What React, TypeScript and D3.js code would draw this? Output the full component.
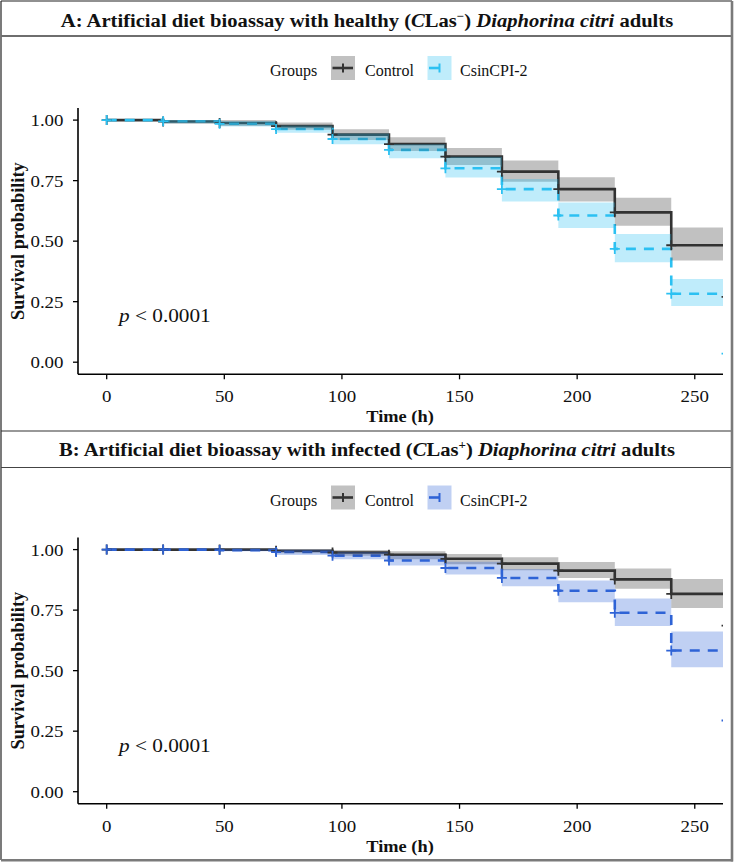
import React from 'react';
import * as d3 from 'd3';

// Kaplan–Meier style survival curves for two feeding bioassays (CLas− / CLas+ psyllids).
// Each curve is a step function sampled at the 24 h check points, with a step ribbon
// for the confidence interval and "+" censor marks at every check point.

const TIMES = [0, 24, 48, 72, 96, 120, 144, 168, 192, 216, 240, 263.5];

// panel A – healthy adults
const A_CONTROL_SURV = [1, 0.994, 0.988, 0.975, 0.94, 0.901, 0.849, 0.787, 0.715, 0.619, 0.483, 0.27];
const A_CONTROL_LOWER = [1, 0.985, 0.976, 0.96, 0.918, 0.872, 0.815, 0.745, 0.664, 0.564, 0.42, 0.2];
const A_CONTROL_UPPER = [1, 1, 1, 0.99, 0.962, 0.929, 0.885, 0.833, 0.764, 0.679, 0.556, 0.34];
const A_CPI_SURV = [1, 0.995, 0.985, 0.963, 0.922, 0.877, 0.801, 0.715, 0.606, 0.468, 0.283, 0.035];
const A_CPI_LOWER = [1, 0.987, 0.974, 0.948, 0.9, 0.842, 0.763, 0.664, 0.554, 0.413, 0.232, 0.01];
const A_CPI_UPPER = [1, 1, 0.996, 0.978, 0.945, 0.9, 0.849, 0.757, 0.66, 0.53, 0.344, 0.1];

// panel B – infected adults
const B_CONTROL_SURV = [1, 1, 1, 0.995, 0.988, 0.979, 0.962, 0.942, 0.913, 0.877, 0.817, 0.686];
const B_CONTROL_LOWER = [1, 1, 0.995, 0.985, 0.975, 0.96, 0.94, 0.915, 0.883, 0.838, 0.759, 0.6];
const B_CONTROL_UPPER = [1, 1, 1, 1, 0.998, 0.993, 0.982, 0.968, 0.949, 0.922, 0.879, 0.78];
const B_CPI_SURV = [1, 1, 0.998, 0.99, 0.975, 0.955, 0.924, 0.883, 0.83, 0.739, 0.583, 0.294];
const B_CPI_LOWER = [1, 1, 0.993, 0.978, 0.96, 0.934, 0.897, 0.849, 0.783, 0.684, 0.514, 0.2];
const B_CPI_UPPER = [1, 1, 1, 0.999, 0.99, 0.976, 0.95, 0.92, 0.872, 0.798, 0.662, 0.4];

const GROUPS = ['Control', 'CsinCPI-2'];
const X_TICKS = [0, 50, 100, 150, 200, 250];
const Y_TICKS = [0, 0.25, 0.5, 0.75, 1];
const P_LABEL = '< 0.0001';

const W = 735;
const H = 864;
const FONT = '"Liberation Serif", "Times New Roman", serif';
const PANEL_H = 429.5;
const PLOT = { left: 78, right: 723, top: 108, bottom: 374.3 };

const CONTROL_COLOR = '#333333';
const CPI_A_COLOR = '#2cc1f2';
const CPI_B_COLOR = '#2f63d6';

const x = d3.scaleLinear().domain([-12.2, 262]).range([PLOT.left, PLOT.right]);
const y = d3.scaleLinear().domain([-0.05, 1.05]).range([PLOT.bottom, PLOT.top]);
const fmt = d3.format('.2f');

type Series = {
  name: string;
  surv: number[];
  lower: number[];
  upper: number[];
  color: string;
  dashed: boolean;
};

// text placed at (x, y) with a slight horizontal widening of the glyphs
function T({ x: tx, y: ty, sx = 1, children, ...rest }: any) {
  return (
    <text transform={`translate(${tx}, ${ty}) scale(${sx}, 1)`} fill="#111" {...rest}>
      {children}
    </text>
  );
}

function Panel({ oy, letter, status, sign, series }: { oy: number; letter: string; status: string; sign: string; series: Series[] }) {
  const clipId = `clip-${letter}`;
  const line = d3
    .line<number>()
    .x((_, i) => x(TIMES[i]))
    .y((d) => y(d))
    .curve(d3.curveStepAfter);
  const ribbon = (s: Series) =>
    d3
      .area<number>()
      .x((_, i) => x(TIMES[i]))
      .y0((_, i) => y(s.lower[i]))
      .y1((_, i) => y(s.upper[i]))
      .curve(d3.curveStepAfter)(s.lower) ?? '';

  const legendKeys = [331, 427.5];
  const legendText = [365, 460];

  return (
    <g transform={`translate(0, ${oy})`} fontFamily={FONT}>
      <defs>
        <clipPath id={clipId}>
          <rect x={PLOT.left} y={PLOT.top} width={PLOT.right - PLOT.left} height={PLOT.bottom - PLOT.top} />
        </clipPath>
      </defs>

      {/* title strip */}
      <T x={367} y={26.5} sx={1.085} textAnchor="middle" fontSize={19} fontWeight="bold">
        {`${letter}: Artificial diet bioassay with ${status} (`}
        <tspan fontStyle="italic">C</tspan>
        Las
        <tspan fontSize={12} dy={-7}>{sign}</tspan>
        <tspan dy={7}>{') '}</tspan>
        <tspan fontStyle="italic">Diaphorina citri</tspan>
        {' adults'}
      </T>

      {/* legend */}
      <T x={270} y={76} fontSize={16}>Groups</T>
      {series.map((s, i) => (
        <g key={s.name}>
          <rect x={legendKeys[i]} y={56} width={24} height={24} fill={s.color} fillOpacity={0.3} />
          <line
            x1={legendKeys[i] + 1.5}
            x2={legendKeys[i] + (s.dashed ? 17 : 22)}
            y1={68}
            y2={68}
            stroke={s.color}
            strokeWidth={2.6}
            strokeDasharray={s.dashed ? '10 8' : undefined}
          />
          <line x1={legendKeys[i] + 12} x2={legendKeys[i] + 12} y1={63.5} y2={72.5} stroke={s.color} strokeWidth={2} />
          <T x={legendText[i]} y={76} fontSize={16}>{s.name}</T>
        </g>
      ))}

      {/* curves, then ribbons on top, then censor marks */}
      <g clipPath={`url(#${clipId})`}>
        {series.map((s) => (
          <path
            key={`l-${s.name}`}
            d={line(s.surv) ?? ''}
            fill="none"
            stroke={s.color}
            strokeWidth={2.6}
            strokeDasharray={s.dashed ? '10 8' : undefined}
          />
        ))}
        {series.map((s) => (
          <path key={`r-${s.name}`} d={ribbon(s)} fill={s.color} fillOpacity={0.3} />
        ))}
        {series.map((s) =>
          s.surv.map((v, i) => {
            const cx = x(TIMES[i]);
            const cy = y(v);
            return (
              <path
                key={`c-${s.name}-${i}`}
                d={`M${cx - 5},${cy}h10M${cx},${cy - 5}v10`}
                stroke={s.color}
                strokeWidth={1.8}
              />
            );
          }),
        )}
      </g>

      {/* axes */}
      <line x1={PLOT.left} x2={PLOT.left} y1={PLOT.top} y2={PLOT.bottom} stroke="#000" strokeWidth={1.6} />
      <line x1={PLOT.left} x2={PLOT.right} y1={PLOT.bottom} y2={PLOT.bottom} stroke="#000" strokeWidth={1.6} />
      {Y_TICKS.map((t) => (
        <g key={`y-${t}`}>
          <line x1={PLOT.left - 5} x2={PLOT.left} y1={y(t)} y2={y(t)} stroke="#000" strokeWidth={1.3} />
          <T x={63.5} y={y(t) + 6} sx={1.08} textAnchor="end" fontSize={17.5}>{fmt(t)}</T>
        </g>
      ))}
      {X_TICKS.map((t) => (
        <g key={`x-${t}`}>
          <line x1={x(t)} x2={x(t)} y1={PLOT.bottom} y2={PLOT.bottom + 5} stroke="#000" strokeWidth={1.3} />
          <T x={x(t)} y={402} sx={1.08} textAnchor="middle" fontSize={17.5}>{t}</T>
        </g>
      ))}
      <T x={400} y={422} sx={1.08} textAnchor="middle" fontSize={17} fontWeight="bold">Time (h)</T>
      <text
        transform={`translate(24, ${(PLOT.top + PLOT.bottom) / 2}) rotate(-90)`}
        textAnchor="middle"
        fontSize={18.3}
        fontWeight="bold"
        fill="#111"
      >
        Survival probability
      </text>
      <T x={119} y={322} sx={1.12} fontSize={19}>
        <tspan fontStyle="italic">p</tspan>
        {` ${P_LABEL}`}
      </T>
    </g>
  );
}

export default function App() {
  const seriesA: Series[] = [
    { name: GROUPS[0], surv: A_CONTROL_SURV, lower: A_CONTROL_LOWER, upper: A_CONTROL_UPPER, color: CONTROL_COLOR, dashed: false },
    { name: GROUPS[1], surv: A_CPI_SURV, lower: A_CPI_LOWER, upper: A_CPI_UPPER, color: CPI_A_COLOR, dashed: true },
  ];
  const seriesB: Series[] = [
    { name: GROUPS[0], surv: B_CONTROL_SURV, lower: B_CONTROL_LOWER, upper: B_CONTROL_UPPER, color: CONTROL_COLOR, dashed: false },
    { name: GROUPS[1], surv: B_CPI_SURV, lower: B_CPI_LOWER, upper: B_CPI_UPPER, color: CPI_B_COLOR, dashed: true },
  ];

  return (
    <svg
      width={W}
      height={H}
      viewBox={`0 0 ${W} ${H}`}
      style={{ position: 'absolute', left: 0, top: 0, display: 'block', background: '#fff' }}
    >
      <rect x={0} y={0} width={W} height={H} fill="#fff" />
      <Panel oy={0} letter="A" status="healthy" sign="−" series={seriesA} />
      <Panel oy={PANEL_H} letter="B" status="infected" sign="+" series={seriesB} />

      {/* frame lines around the two panels */}
      <line x1={1} x2={1} y1={1} y2={860} stroke="#222" strokeWidth={1.2} />
      <line x1={1} x2={732} y1={1} y2={1} stroke="#222" strokeWidth={1.2} />
      <line x1={1} x2={731} y1={36} y2={36} stroke="#6e6e6e" strokeWidth={2} />
      <line x1={1} x2={731} y1={431} y2={431} stroke="#333" strokeWidth={1.2} />
      <line x1={1} x2={731} y1={467.5} y2={467.5} stroke="#444" strokeWidth={1.2} />
      <line x1={732} x2={732} y1={1} y2={861.5} stroke="#7a7a7a" strokeWidth={2.6} />
      <line x1={1} x2={733} y1={860.2} y2={860.2} stroke="#7a7a7a" strokeWidth={2.6} />
    </svg>
  );
}
